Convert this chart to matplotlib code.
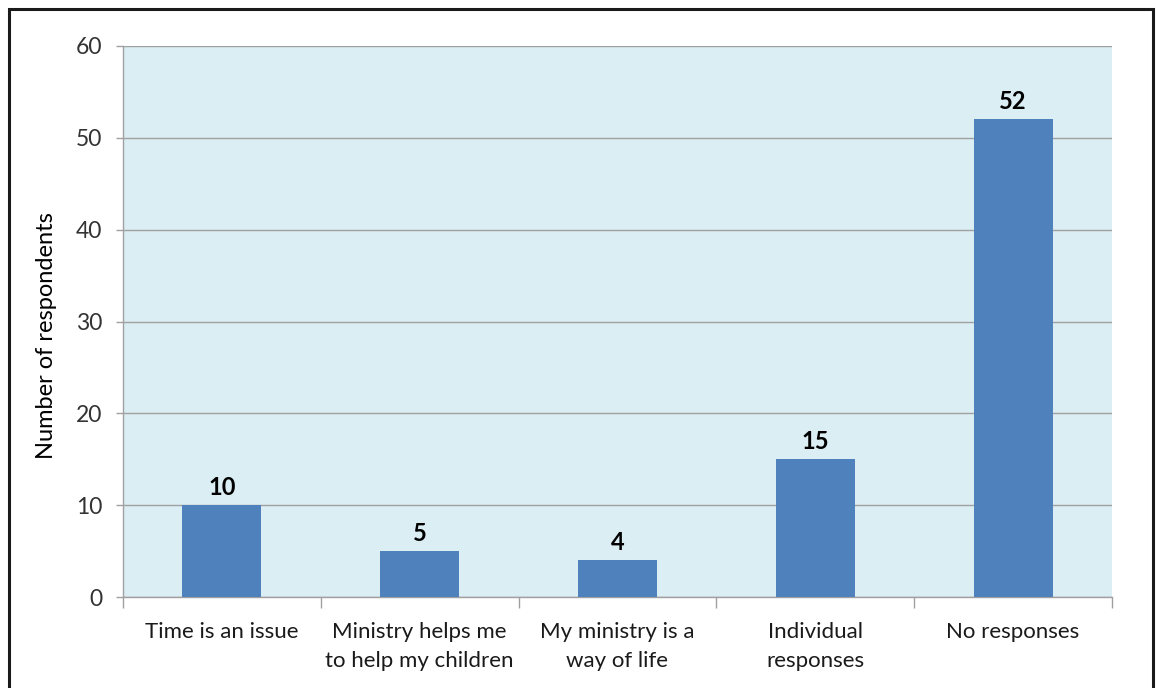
import matplotlib
matplotlib.use('Agg')
import matplotlib.pyplot as plt
import numpy as np
from matplotlib.patches import Rectangle

# data
categories = ['Time is an issue', 'Ministry helps me\nto help my children',
              'My ministry is a\nway of life', 'Individual\nresponses', 'No responses']
counts = [10, 5, 4, 15, 52]
yticks = [0, 10, 20, 30, 40, 50, 60]

plt.rcParams['font.family'] = ['Lato', 'DejaVu Sans']

fig = plt.figure(figsize=(11.56, 6.88), dpi=100)
ax = fig.add_axes([123/1156, 91/688, 989/1156, 551/688])
ax.set_facecolor('#DBEEF4')

x = np.arange(len(categories))
bars = ax.bar(x, counts, width=0.4, color='#4F81BD', zorder=3)

for xi, v in zip(x, counts):
    ax.text(xi, v + 0.7, str(v), ha='center', va='bottom',
            fontsize=17, fontweight='bold', color='black')

ax.set_xlim(-0.5, len(categories) - 0.5)
ax.set_ylim(0, 60)
ax.set_yticks(yticks)
ax.yaxis.grid(True, color='#A0A0A0', linewidth=1.0, zorder=1)
ax.set_axisbelow(True)

ax.set_xticks(x)
ax.set_xticklabels(categories, fontsize=16, color='#1a1a1a', linespacing=1.55)
ax.set_xticks(np.arange(-0.5, len(categories)), minor=True)
ax.tick_params(axis='x', which='major', length=0, pad=18)
ax.tick_params(axis='x', which='minor', length=8, color='#A0A0A0', width=1)
ax.tick_params(axis='y', length=5, color='#A0A0A0', width=1,
               labelsize=16.5, labelcolor='#333333', pad=10)

for s in ['top', 'right']:
    ax.spines[s].set_visible(False)
for s in ['left', 'bottom']:
    ax.spines[s].set_color('#A0A0A0')
    ax.spines[s].set_linewidth(1.0)

ax.set_ylabel('Number of respondents', fontsize=17, color='black')
ax.yaxis.set_label_coords(-0.067, 0.475)

# outer frame of the chart
fig.patches.append(Rectangle((9/1156, -0.05), 1144/1156, 1.05 - 9/688,
                             transform=fig.transFigure, fill=False,
                             edgecolor='#1a1a1a', linewidth=2.2))

fig.savefig('out.png', dpi=100)
